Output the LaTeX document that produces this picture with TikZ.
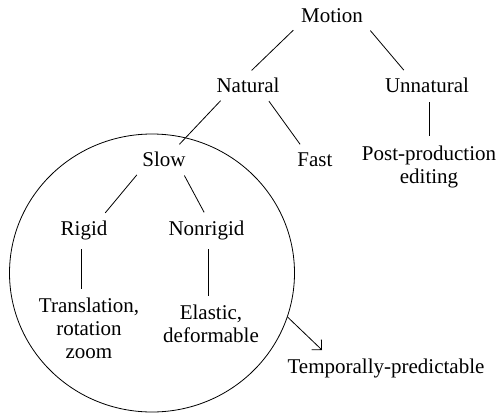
\documentclass[tikz,border=0pt]{standalone}
\usepackage{fontspec}
\setmainfont{Liberation Serif}
\usetikzlibrary{shapes.geometric, arrows.meta}

\begin{document}
\begin{tikzpicture}[x=1pt, y=-1pt,
    term/.style={inner sep=4pt, align=center, font=\fontsize{21}{23}\selectfont},
    branch/.style={line width=0.8pt, shorten <=5pt, shorten >=5pt},
    region/.style={draw, ellipse, line width=0.8pt, minimum width=285pt, minimum height=278pt, inner sep=0pt}]
\useasboundingbox (0,0) rectangle (501,413);
% the slow, temporally-predictable part
\node[region] (slowregion) at (152,273) {};
% tree
\node[term] (motion) at (332,15.5) {Motion};
\node[term] (natural) at (248,85.5) {Natural};
\node[term] (unnatural) at (427,85.5) {Unnatural};
\node[term] (slow) at (164,159.5) {Slow};
\node[term] (fast) at (315,159.5) {Fast};
\node[term] (post) at (429,166.5) {Post-production\\editing};
\node[term] (rigid) at (84,230.5) {Rigid};
\node[term] (nonrigid) at (206.5,230.5) {Nonrigid};
\node[term] (transl) at (89,328.5) {Translation,\\rotation\\zoom};
\node[term] (elastic) at (211,324) {Elastic,\\deformable};
\node[term] (temporal) at (386,368.5) {Temporally-predictable};
\coordinate (tip) at (322,350);
% branches
\draw[branch] (motion.south west) -- (natural.north);
\draw[branch] (motion.south east) -- ([xshift=-20pt]unnatural.north);
\draw[branch] ([xshift=-24pt]natural.south) -- ([xshift=12pt]slow.north);
\draw[branch] ([xshift=18pt]natural.south) -- ([xshift=-12pt]fast.north);
\draw[branch] ([xshift=2pt]unnatural.south) -- ([xshift=2pt]unnatural.south |- post.north);
\draw[branch] ([xshift=-24pt]slow.south) -- ([xshift=18pt]rigid.north);
\draw[branch] ([xshift=18pt]slow.south) -- (nonrigid.north);
\draw[branch] ([xshift=-3pt]rigid.south) -- ([xshift=-3pt]rigid.south |- transl.north);
\draw[branch] ([xshift=2pt]nonrigid.south) -- ([xshift=2pt]nonrigid.south |- elastic.north);
\draw[line width=0.8pt, -{Straight Barb[length=7pt, width=14pt]}] (slowregion.-18) -- (tip);
\end{tikzpicture}
\end{document}
